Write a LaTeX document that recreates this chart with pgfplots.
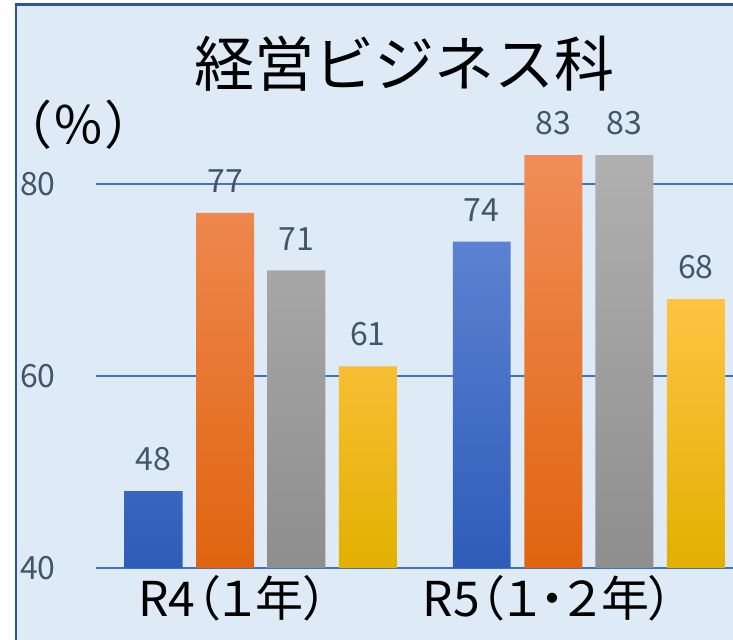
\documentclass[border=0pt]{standalone}
\usepackage{fontspec}
\setmainfont{Noto Sans CJK JP}
\newfontfamily\catfont[RawFeature=+palt]{Noto Sans CJK JP}
\usepackage{pgfplots}
\pgfplotsset{compat=1.18}
\definecolor{bg}{HTML}{DEEBF7}
\definecolor{frame}{HTML}{2F5597}
\definecolor{gridblue}{HTML}{4472C4}
\definecolor{lbl}{HTML}{44546A}
\definecolor{blueT}{HTML}{5B82D2}
\definecolor{blueB}{HTML}{2E5CB8}
\definecolor{oraT}{HTML}{F08D57}
\definecolor{oraB}{HTML}{E0640F}
\definecolor{grayT}{HTML}{B0B0B0}
\definecolor{grayB}{HTML}{8E8E8E}
\definecolor{yelT}{HTML}{FFC343}
\definecolor{yelM}{HTML}{FFC600}
\definecolor{yelB}{HTML}{E2B000}
\begin{document}
\begin{tikzpicture}
\fill[white] (0pt,0pt) rectangle (366.5pt,320pt);
\fill[bg] (8pt,0pt) rectangle (366.5pt,317.75pt);
\draw[frame, line width=1.35pt] (8pt,0pt) -- (8pt,317.75pt) -- (366.5pt,317.75pt);
\begin{axis}[
  at={(48pt,36pt)}, anchor=south west,
  scale only axis, width=318.5pt, height=240pt,
  xmin=-0.503, xmax=1.439, ymin=40, ymax=90,
  clip=false,
  axis x line*=bottom, axis y line*=left,
  x axis line style={draw=gridblue, line width=0.8pt, -},
  y axis line style={draw=none},
  major tick length=0pt,
  ytick={40,60,80},
  ymajorgrids,
  grid style={draw=gridblue, line width=0.8pt},
  xtick={-0.085,0.875},
  xticklabels={R4（１年）, R5（１・２年）},
  xticklabel style={anchor=center, yshift=-15pt, font=\catfont\fontsize{24}{24}\selectfont, text=black},
  yticklabel style={anchor=center, xshift=-29pt, font=\fontsize{16}{16}\selectfont, text=lbl},
  /pgf/number format/assume math mode=true,
  ybar,
  bar width=0.1768,
  nodes near coords,
  every node near coord/.append style={font=\fontsize{16}{16}\selectfont, text=lbl, yshift=6.5pt},
]
\addplot[bar shift=0pt, draw=none, top color=blueT, bottom color=blueB]
  coordinates {(-0.327,48) (0.673,74)};
\addplot[bar shift=0pt, draw=none, top color=oraT, bottom color=oraB]
  coordinates {(-0.109,77) (0.891,83)};
\addplot[bar shift=0pt, draw=none, top color=grayT, bottom color=grayB]
  coordinates {(0.108,71) (1.108,83)};
\addplot[bar shift=0pt, draw=none, top color=yelT, middle color=yelM, bottom color=yelB]
  coordinates {(0.326,61) (1.326,68)};
\end{axis}
\node[font=\fontsize{30}{30}\selectfont] at (202pt,288pt) {経営ビジネス科};
\node[font=\fontsize{26}{26}\selectfont] at (39pt,257.5pt) {（％）};
\pgfresetboundingbox
\useasboundingbox (0pt,0pt) rectangle (366.5pt,320pt);
\end{tikzpicture}
\end{document}
